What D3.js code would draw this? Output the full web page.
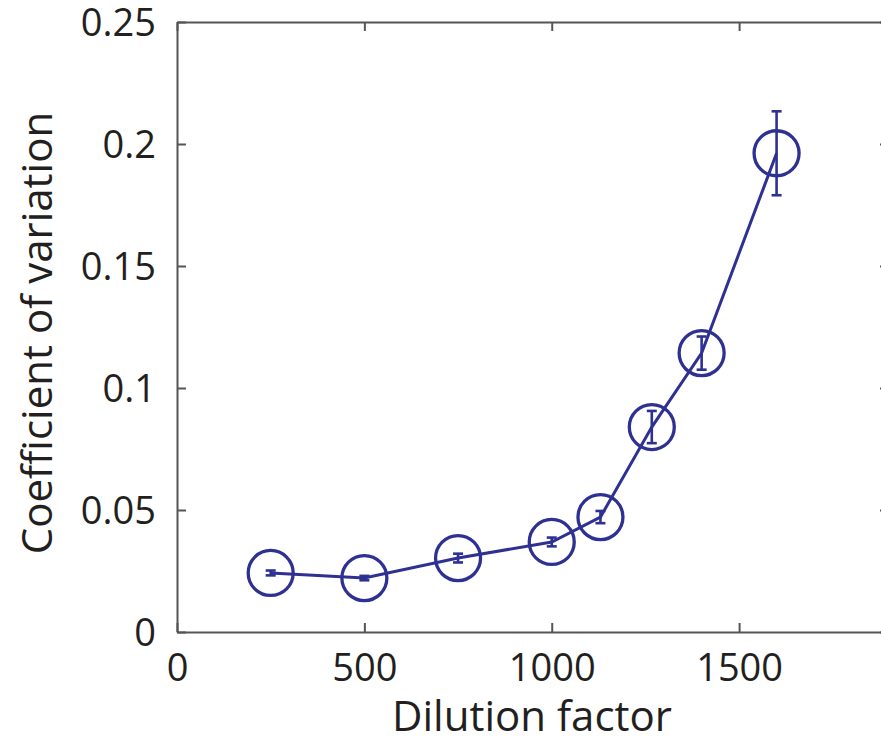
<!DOCTYPE html>
<html>
<head>
<meta charset="utf-8">
<script src="https://cdn.jsdelivr.net/npm/d3@7"></script>
<style>
  body { margin: 0; background: #fff; overflow: hidden; }
  svg { display: block; }
  text { font-family: "Open Sans", sans-serif; fill: #231f20; }
</style>
</head>
<body>
<script>
// dilution factor vs CV, with error bars
var dilution = [250, 500, 750, 1000, 1130, 1267, 1400, 1600];
var cv       = [0.0242, 0.0221, 0.0303, 0.0369, 0.0471, 0.0840, 0.1143, 0.1962];
var cvErr    = [0.0010, 0.0009, 0.0018, 0.0018, 0.0025, 0.0066, 0.0068, 0.0172];
var xTicks = [0, 500, 1000, 1500];
var yTicks = [0, 0.05, 0.1, 0.15, 0.2, 0.25];

var width = 881,
    height = 742;

var blue = "#2e3192",
    axisColor = "#555";

var margin = {top: 22, right: -8, bottom: 110, left: 177};

var x = d3.scaleLinear().domain([0, 1900]).range([margin.left, width - margin.right]);
var y = d3.scaleLinear().domain([0, 0.25]).range([height - margin.bottom, margin.top]);

var svg = d3.select("body").append("svg")
    .attr("width", width)
    .attr("height", height)
    .style("overflow", "hidden");

var pts = dilution.map(function(d, i) { return {x: d, y: cv[i], e: cvErr[i]}; });

// axes (box with inward ticks)
var tickLen = 9;
function noLabels(g) { g.selectAll("text").remove(); }

var xAxisB = svg.append("g")
    .attr("transform", "translate(0," + y(0) + ")")
    .call(d3.axisBottom(x).tickValues(xTicks).tickFormat(d3.format("d"))
      .tickSizeInner(-tickLen).tickSizeOuter(0).tickPadding(22));
var xAxisT = svg.append("g")
    .attr("transform", "translate(0," + y(0.25) + ")")
    .call(d3.axisTop(x).tickValues(xTicks).tickSizeInner(-tickLen).tickSizeOuter(0))
    .call(noLabels);
var yAxisL = svg.append("g")
    .attr("transform", "translate(" + x(0) + ",0)")
    .call(d3.axisLeft(y).tickValues(yTicks).tickFormat(d3.format(""))
      .tickSizeInner(-tickLen).tickSizeOuter(0).tickPadding(21));
var yAxisR = svg.append("g")
    .attr("transform", "translate(" + x(1900) + ",0)")
    .call(d3.axisRight(y).tickValues(yTicks).tickSizeInner(-tickLen).tickSizeOuter(0))
    .call(noLabels);

[xAxisB, xAxisT, yAxisL, yAxisR].forEach(function(g) {
  g.select(".domain").attr("stroke", axisColor).attr("stroke-width", 2);
  g.selectAll(".tick line").attr("stroke", axisColor).attr("stroke-width", 2);
  g.selectAll("text").style("font-size", "38px").attr("fill", "#231f20");
});
yAxisL.selectAll(".tick text").attr("dy", "0.36em");
xAxisB.selectAll(".tick text").attr("dy", "0.71em");

// line
svg.append("path")
    .datum(pts)
    .attr("fill", "none")
    .attr("stroke", blue)
    .attr("stroke-width", 3)
    .attr("d", d3.line().x(function(d) { return x(d.x); }).y(function(d) { return y(d.y); }));

// error bars
var eb = svg.append("g").attr("stroke", blue).attr("stroke-width", 2.6);
eb.selectAll(".v").data(pts).enter().append("line")
    .attr("x1", function(d) { return x(d.x); })
    .attr("x2", function(d) { return x(d.x); })
    .attr("y1", function(d) { return y(d.y - d.e); })
    .attr("y2", function(d) { return y(d.y + d.e); });
eb.selectAll(".cap").data(pts.concat(pts.map(function(d) { return {x: d.x, y: d.y, e: -d.e}; })))
  .enter().append("line")
    .attr("x1", function(d) { return x(d.x) - 5; })
    .attr("x2", function(d) { return x(d.x) + 5; })
    .attr("y1", function(d) { return y(d.y + d.e); })
    .attr("y2", function(d) { return y(d.y + d.e); });

// markers
svg.selectAll(".marker").data(pts).enter().append("circle")
    .attr("class", "marker")
    .attr("cx", function(d) { return x(d.x); })
    .attr("cy", function(d) { return y(d.y); })
    .attr("r", 22.5)
    .attr("fill", "none")
    .attr("stroke", blue)
    .attr("stroke-width", 3.3);

// labels
svg.append("text")
    .attr("x", 532)
    .attr("y", 731)
    .attr("text-anchor", "middle")
    .style("font-size", "42px")
    .text("Dilution factor");

svg.append("text")
    .attr("transform", "translate(52," + 333 + ") rotate(-90)")
    .attr("text-anchor", "middle")
    .style("font-size", "42px")
    .text("Coefficient of variation");
</script>
</body>
</html>
